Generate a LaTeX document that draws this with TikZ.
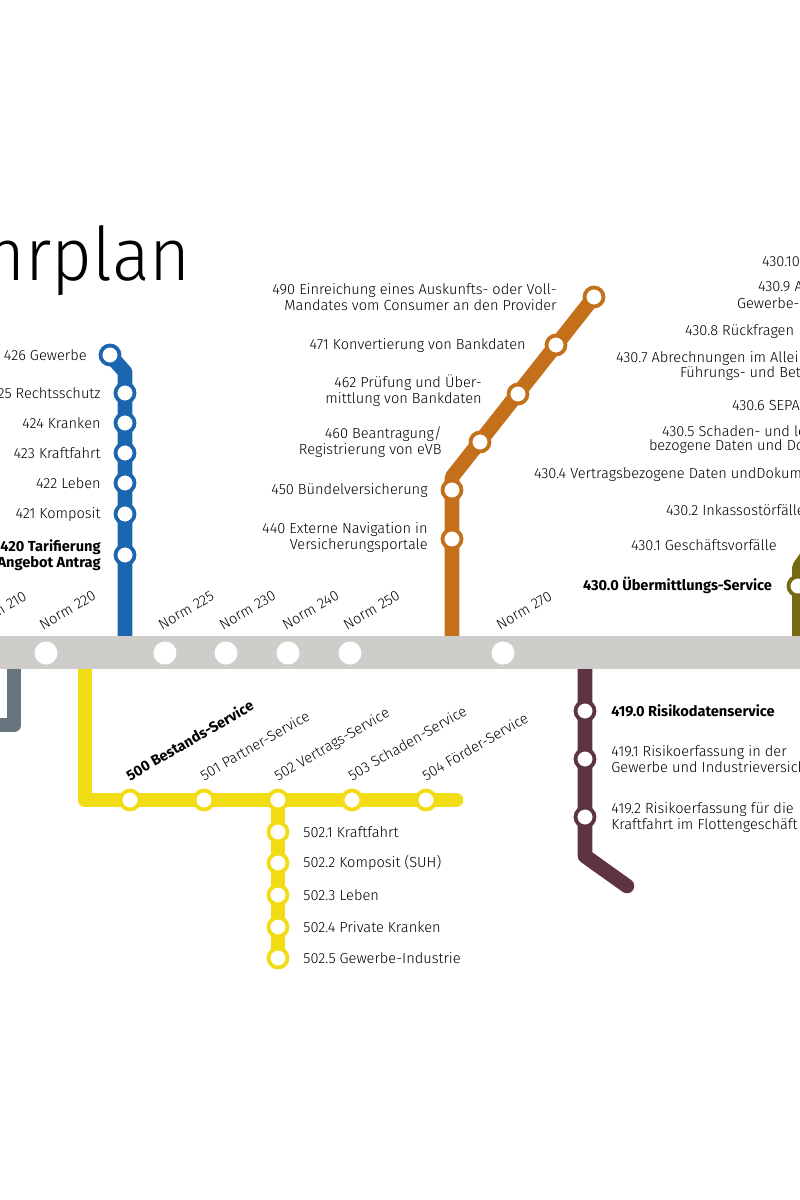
\documentclass[tikz,border=0pt]{standalone}
\usepackage{fontspec}
\setmainfont{Fira Sans Light}[BoldFont={Fira Sans Bold}]
\newfontfamily\titlefont{Fira Sans Light}[FakeStretch=0.95]
\usepackage{tikz}
\usetikzlibrary{positioning, calc, backgrounds}

\definecolor{bandgrey}{HTML}{CFCDC9}
\definecolor{slateline}{HTML}{67757E}
\definecolor{blueline}{HTML}{1C66B0}
\definecolor{orangeline}{HTML}{C4701B}
\definecolor{yellowline}{HTML}{F2DC14}
\definecolor{wineline}{HTML}{5E3344}
\definecolor{oliveline}{HTML}{756A12}

\newcommand{\labfont}{\fontsize{14.6}{16}\selectfont}

\begin{document}
\begin{tikzpicture}[
    x=1pt, y=-1pt,
    stop/.style={draw, circle, fill=white, line width=3.8pt, minimum size=19pt, inner sep=0pt},
    halt/.style={circle, fill=white, minimum size=23pt, inner sep=0pt},
    line/.style={line width=14.6pt, line join=round},
    lab/.style={font=\labfont, inner sep=0pt, outer sep=0pt, text=black},
    labbold/.style={font=\labfont\bfseries},
    lableft/.style={lab, align=right},
    labright/.style={lab, align=left},
    labtilt/.style={lab, rotate=30, anchor=base west}
]
\useasboundingbox (0,0) rectangle (800,1200);

% Title
\node[font=\fontsize{74}{74}\selectfont\titlefont, inner sep=0pt, anchor=base east] (title) at (191,280) {Fahrplan};

% Main band with the norm stops
\node[fill=bandgrey, minimum width=800pt, minimum height=33pt, inner sep=0pt, anchor=west] (band) at (0,652.5) {};
\node[halt] (n220) at (46,653) {};
\node[halt] (n225) at (165,653) {};
\node[halt] (n230) at (226,653) {};
\node[halt] (n240) at (288,653) {};
\node[halt] (n250) at (350,653) {};
\node[halt] (n270) at (503,653) {};
\node[labtilt] (t210) at (-25,630) {Norm 210};
\node[labtilt] (t220) at (43,630) {Norm 220};
\node[labtilt] (t225) at (162,630) {Norm 225};
\node[labtilt] (t230) at (223,630) {Norm 230};
\node[labtilt] (t240) at (286,630) {Norm 240};
\node[labtilt] (t250) at (347,630) {Norm 250};
\node[labtilt] (t270) at (500,630) {Norm 270};

% Blue line
\node[stop, draw=blueline] (b426) at (110,355) {};
\node[stop, draw=blueline] (b425) at (125,393) {};
\node[stop, draw=blueline] (b424) at (125,423) {};
\node[stop, draw=blueline] (b423) at (125,453) {};
\node[stop, draw=blueline] (b422) at (125,483) {};
\node[stop, draw=blueline] (b421) at (125,514) {};
\node[stop, draw=blueline] (b420) at (125,555) {};
\node[lableft, left=12pt of b426] {426 Gewerbe};
\node[lableft, left=13pt of b425] {425 Rechtsschutz};
\node[lableft, left=13pt of b424] {424 Kranken};
\node[lableft, left=13pt of b423] {423 Kraftfahrt};
\node[lableft, left=13pt of b422] {422 Leben};
\node[lableft, left=13pt of b421] {421 Komposit};
\node[lableft, labbold, left=13pt of b420] {420 Tarifierung\\Angebot Antrag};

% Orange line
\node[stop, draw=orangeline] (o490) at (594,297) {};
\node[stop, draw=orangeline] (o471) at (556,345) {};
\node[stop, draw=orangeline] (o462) at (518,394) {};
\node[stop, draw=orangeline] (o460) at (480,442) {};
\node[stop, draw=orangeline] (o450) at (452,490) {};
\node[stop, draw=orangeline] (o440) at (452,539) {};
\node[lableft, left=26pt of o490] {490 Einreichung eines Auskunfts- oder Voll-\\Mandates vom Consumer an den Provider};
\node[lableft, left=19pt of o471] {471 Konvertierung von Bankdaten};
\node[lableft, left=25pt of o462, yshift=3pt] {462 Prüfung und Über-\\mittlung von Bankdaten};
\node[lableft, left=27pt of o460] {460 Beantragung/\\Registrierung von eVB};
\node[lableft, left=13pt of o450] {450 Bündelversicherung};
\node[lableft, left=13pt of o440, yshift=2pt] {440 Externe Navigation in\\Versicherungsportale};

% Olive line and its labels
\node[stop, draw=oliveline] (v430) at (798,586) {};
\node[lab, labbold, anchor=west] (l4300) at (583,585) {430.0 Übermittlungs-Service};
\node[lab, anchor=west] (l4301) at (631,545) {430.1 Geschäftsvorfälle};
\node[lab, anchor=west] (l4302) at (666,510) {430.2 Inkassostörfälle};
\node[lab, anchor=west] (l4304) at (534,475) {430.4 Vertragsbezogene Daten undDokum};
\node[lab, anchor=west] (l4305a) at (662,431) {430.5 Schaden- und le};
\node[lab, anchor=west] (l4305b) at (649,447) {bezogene Daten und Do};
\node[lab, anchor=west] (l4306) at (732,405) {430.6 SEPA};
\node[lab, anchor=west] (l4307a) at (616,358) {430.7 Abrechnungen im Allei};
\node[lab, anchor=west] (l4307b) at (680,374) {Führungs- und Bet};
\node[lab, anchor=west] (l4308) at (685,332) {430.8 Rückfragen};
\node[lab, anchor=west] (l4309a) at (758,287) {430.9 A};
\node[lab, anchor=west] (l4309b) at (737,303) {Gewerbe-};
\node[lab, anchor=west] (l43010) at (762,262) {430.10};

% Yellow line
\node[stop, draw=yellowline] (y500) at (130,800) {};
\node[stop, draw=yellowline] (y501) at (204,800) {};
\node[stop, draw=yellowline] (y502) at (278,800) {};
\node[stop, draw=yellowline] (y503) at (352,800) {};
\node[stop, draw=yellowline] (y504) at (426,800) {};
\node[stop, draw=yellowline] (y5021) at (278,832) {};
\node[stop, draw=yellowline] (y5022) at (278,863) {};
\node[stop, draw=yellowline] (y5023) at (278,895) {};
\node[stop, draw=yellowline] (y5024) at (278,927) {};
\node[stop, draw=yellowline] (y5025) at (278,958) {};
\node[labtilt, labbold] (t500) at (130,781) {500 Bestands-Service};
\node[labtilt] (t501) at (204,781) {501 Partner-Service};
\node[labtilt] (t502) at (278,781) {502 Vertrags-Service};
\node[labtilt] (t503) at (352,781) {503 Schaden-Service};
\node[labtilt] (t504) at (426,781) {504 Förder-Service};
\node[labright, right=14pt of y5021] {502.1 Kraftfahrt};
\node[labright, right=14pt of y5022] {502.2 Komposit (SUH)};
\node[labright, right=14pt of y5023] {502.3 Leben};
\node[labright, right=14pt of y5024] {502.4 Private Kranken};
\node[labright, right=14pt of y5025] {502.5 Gewerbe-Industrie};

% Wine line
\node[stop, draw=wineline] (w4190) at (585,711) {};
\node[stop, draw=wineline] (w4191) at (585,759) {};
\node[stop, draw=wineline] (w4192) at (585,817) {};
\node[labright, labbold, right=15pt of w4190] {419.0 Risikodatenservice};
\node[labright, right=15pt of w4191] {419.1 Risikoerfassung in der\\Gewerbe und Industrieversich};
\node[labright, right=15pt of w4192] {419.2 Risikoerfassung für die\\Kraftfahrt im Flottengeschäft};

% Free ends and bends of the lines
\coordinate (sl0) at (14,653);
\coordinate (sl1) at (14,725);
\coordinate (sl2) at (-10,725);
\coordinate (bl0) at (125,653);
\coordinate (bl1) at (125,372);
\coordinate (ol0) at (452,653);
\coordinate (ol1) at (452,477);
\coordinate (vl0) at (799.5,653);
\coordinate (vl1) at (799.5,567);
\coordinate (vl2) at (815,545);
\coordinate (yl0) at (85,653);
\coordinate (yl1) at (85,800);
\coordinate (yl2) at (456,800);
\coordinate (wl0) at (585,653);
\coordinate (wl1) at (585,856);
\coordinate (wl2) at (627,886);

\begin{scope}[on background layer]
\draw[line, slateline] (sl0) -- (sl1) -- (sl2);
\draw[line, blueline] (bl0) -- (bl1) -- (b426.center);
\draw[line, orangeline] (ol0) -- (ol1) -- (o490.center);
\draw[line, oliveline] (vl0) -- (vl1) -- (vl2);
\draw[line, yellowline, line cap=round] (yl0) -- (yl1) -- (yl2);
\draw[line, yellowline] (y502.center) -- (y5025.center);
\draw[line, wineline, line cap=round] (wl0) -- (wl1) -- (wl2);
\end{scope}
\end{tikzpicture}
\end{document}
